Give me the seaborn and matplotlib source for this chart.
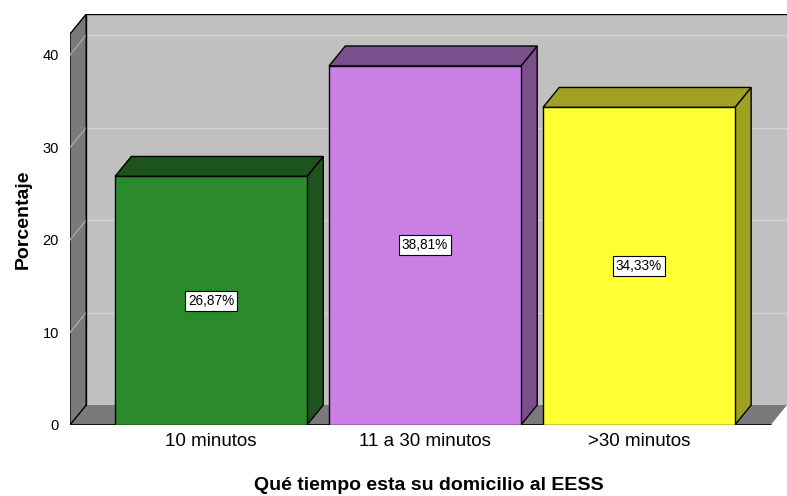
import matplotlib
matplotlib.use("Agg")
import matplotlib.pyplot as plt
from matplotlib.patches import Polygon
import seaborn as sns

categorias = ["10 minutos", "11 a 30 minutos", ">30 minutos"]
porcentajes = [26.87, 38.81, 34.33]
etiquetas = ["26,87%", "38,81%", "34,33%"]
color_frente = ["#2b8a2b", "#cb7ee4", "#ffff33"]
color_lado = ["#1d541d", "#7b4f8c", "#a0a022"]

sns.set_style("white")
plt.rcParams["font.family"] = ["Liberation Sans", "DejaVu Sans"]
plt.rcParams["text.color"] = "black"
plt.rcParams["axes.labelcolor"] = "black"
plt.rcParams["xtick.color"] = "black"
plt.rcParams["ytick.color"] = "black"

fig = plt.figure(figsize=(7.87, 4.96), dpi=100)
ax = fig.add_axes([70 / 787, 71 / 496, 717 / 787, 411 / 496])

x0, x1 = -0.659, 2.692
ytop = 44.43
dx, dy = 0.076, 2.16   # profundidad 3D en unidades de datos

# paredes
pared_izq = Polygon([(x0, 0), (x0 + dx, dy), (x0 + dx, ytop), (x0, ytop - dy)],
                    closed=True, facecolor="#7a7a7a", edgecolor="black", lw=1, zorder=0.2)
suelo = Polygon([(x0, 0), (x1 - dx, 0), (x1, dy), (x0 + dx, dy)],
                closed=True, facecolor="#7a7a7a", edgecolor="none", zorder=0.2)
fondo = Polygon([(x0 + dx, dy), (x1, dy), (x1, ytop), (x0 + dx, ytop)],
                closed=True, facecolor="#c0c0c0", edgecolor="none", zorder=0.1)
for p in (fondo, suelo, pared_izq):
    ax.add_patch(p)
ax.plot([x0 + dx, x0 + dx, x1], [dy, ytop - 0.05, ytop - 0.05], color="black", lw=1, zorder=0.3)
ax.plot([x0, x1 - dx], [0, 0], color="black", lw=1.2, zorder=0.3)

for v in [10, 20, 30, 40]:
    ax.plot([x0 + dx, x1], [v + dy, v + dy], color="#d4d4d4", lw=1, zorder=0.15)
    ax.plot([x0, x0 + dx], [v, v + dy], color="#a8a8a8", lw=1, zorder=0.25)

sns.barplot(x=categorias, y=porcentajes, hue=categorias, palette=color_frente,
            legend=False, width=0.897, saturation=1, edgecolor="black",
            linewidth=1, ax=ax)

barras = [p for p in ax.patches if p not in (fondo, suelo, pared_izq)]
for i, bar in enumerate(barras):
    bx0 = bar.get_x()
    bx1 = bx0 + bar.get_width()
    h = bar.get_height()
    bar.set_zorder(2)
    lado = Polygon([(bx1, 0), (bx1 + dx, dy), (bx1 + dx, h + dy), (bx1, h)],
                   closed=True, facecolor=color_lado[i], edgecolor="black", lw=1, zorder=1.5)
    tapa = Polygon([(bx0, h), (bx0 + dx, h + dy), (bx1 + dx, h + dy), (bx1, h)],
                   closed=True, facecolor=color_lado[i], edgecolor="black", lw=1, zorder=1.5)
    ax.add_patch(lado)
    ax.add_patch(tapa)
    ax.text(bx0 + bar.get_width() / 2, h / 2, etiquetas[i], ha="center", va="center",
            fontsize=9.8, zorder=3,
            bbox=dict(boxstyle="square,pad=0.22", facecolor="white", edgecolor="black", lw=0.8))

ax.set_xlim(x0, x1)
ax.set_ylim(0, ytop)
ax.set_yticks([0, 10, 20, 30, 40])
ax.tick_params(axis="y", length=0, labelsize=10.5, pad=8)
ax.tick_params(axis="x", length=0, labelsize=13.5, pad=6)
for s in ax.spines.values():
    s.set_visible(False)
ax.set_facecolor("none")

ax.set_xlabel("Qué tiempo esta su domicilio al EESS", fontsize=14, fontweight="bold", labelpad=19.5)
ax.set_ylabel("Porcentaje", fontsize=14, fontweight="bold", labelpad=8)

fig.savefig("out.png", dpi=100)
